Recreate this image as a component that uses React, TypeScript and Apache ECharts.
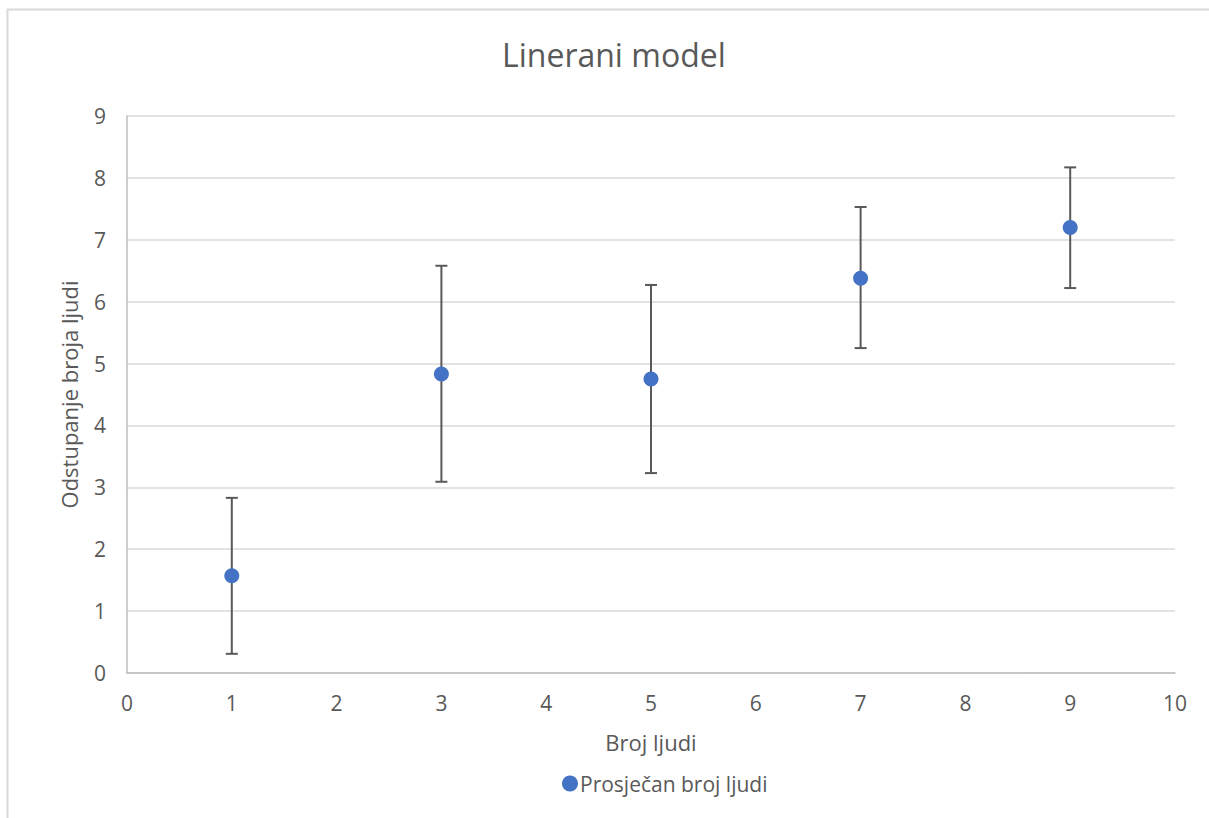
import React, { useEffect, useRef } from "react";
import * as echarts from "echarts";

const xValues = [1, 3, 5, 7, 9];
const means = [1.57, 4.83, 4.75, 6.38, 7.2];
const lowers = [0.31, 3.09, 3.23, 5.25, 6.22];
const uppers = [2.83, 6.58, 6.27, 7.53, 8.17];
const seriesName = "Prosječan broj ljudi";

export default function App() {
  const ref = useRef<HTMLDivElement>(null);
  useEffect(() => {
    document.body.style.margin = "0";
    const chart = echarts.init(ref.current!, null, { renderer: "svg" });
    const font = "'Open Sans', 'Noto Sans', sans-serif";
    const gray = "#595959";
    chart.setOption({
      animation: false,
      backgroundColor: "#ffffff",
      textStyle: { fontFamily: font },
      title: {
        text: "Linerani model",
        left: 497,
        top: 33,
        textStyle: { fontSize: 32, fontWeight: "normal", color: gray, fontFamily: font },
      },
      graphic: [
        {
          type: "rect",
          shape: { x: 7.5, y: 9.5, width: 1220, height: 830 },
          style: { fill: "none", stroke: "#d9d9d9", lineWidth: 2 },
          silent: true,
        },
      ],
      legend: {
        data: [{ name: seriesName, icon: "circle" }],
        left: 557,
        top: 768,
        itemWidth: 16,
        itemHeight: 16,
        itemGap: 4,
        textStyle: { fontSize: 21, color: gray, fontFamily: font, padding: [0, 0, 0, -3] },
      },
      grid: { left: 127, right: 34, top: 116, bottom: 145, containLabel: false },
      xAxis: {
        type: "value",
        min: 0,
        max: 10,
        interval: 1,
        name: "Broj ljudi",
        nameLocation: "middle",
        nameGap: 58,
        nameTextStyle: { fontSize: 22, color: gray, fontFamily: font },
        axisLine: { show: true, lineStyle: { color: "#bfbfbf", width: 1.5 } },
        axisTick: { show: false },
        splitLine: { show: false },
        axisLabel: { fontSize: 21, color: gray, margin: 19, fontFamily: font },
      },
      yAxis: {
        type: "value",
        min: 0,
        max: 9,
        interval: 1,
        name: "Odstupanje broja ljudi",
        nameLocation: "middle",
        nameGap: 47,
        nameTextStyle: { fontSize: 22, color: gray, fontFamily: font },
        axisLine: { show: true, lineStyle: { color: "#bfbfbf", width: 1.5 } },
        axisTick: { show: false },
        splitLine: { show: true, lineStyle: { color: "#d9d9d9", width: 1.5 } },
        axisLabel: { fontSize: 21, color: gray, margin: 21, fontFamily: font },
      },
      series: [
        {
          type: "custom",
          name: "errors",
          data: xValues.map((x, i) => [x, lowers[i], uppers[i]]),
          encode: { x: 0, y: [1, 2] },
          z: 1,
          renderItem: (params: any, api: any) => {
            const x = api.value(0);
            const lo = api.coord([x, api.value(1)]);
            const hi = api.coord([x, api.value(2)]);
            const cap = 6;
            const style = { stroke: "#595959", lineWidth: 2 };
            return {
              type: "group",
              children: [
                { type: "line", shape: { x1: lo[0], y1: lo[1], x2: hi[0], y2: hi[1] }, style },
                { type: "line", shape: { x1: lo[0] - cap, y1: lo[1], x2: lo[0] + cap, y2: lo[1] }, style },
                { type: "line", shape: { x1: hi[0] - cap, y1: hi[1], x2: hi[0] + cap, y2: hi[1] }, style },
              ],
            };
          },
        },
        {
          type: "scatter",
          name: seriesName,
          data: xValues.map((x, i) => [x, means[i]]),
          symbol: "circle",
          symbolSize: 15,
          itemStyle: { color: "#4472C4", opacity: 1 },
          z: 3,
        },
      ],
    });
    return () => chart.dispose();
  }, []);
  return <div ref={ref} style={{ width: 1209, height: 818 }} />;
}
